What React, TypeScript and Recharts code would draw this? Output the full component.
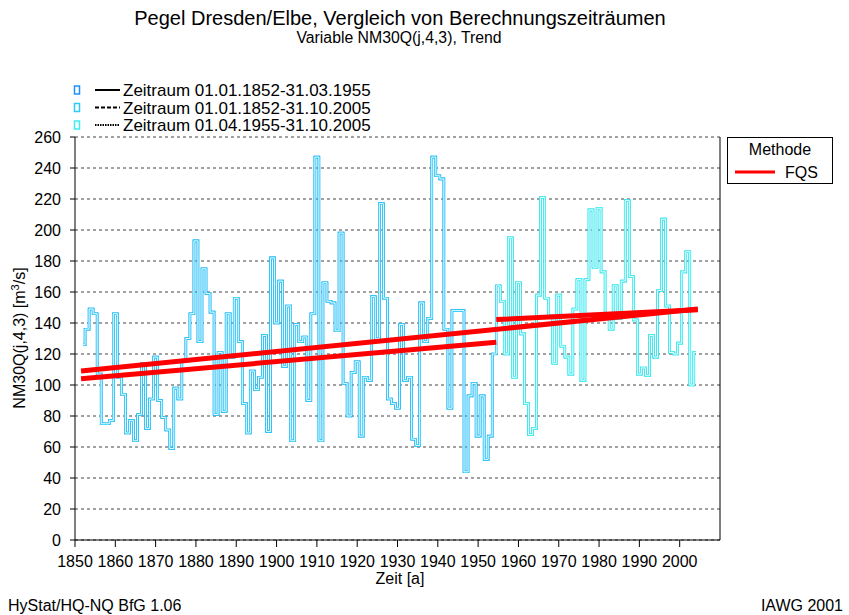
import { CartesianGrid, ComposedChart, Line, ReferenceLine, XAxis, YAxis } from "recharts"

const font = "'Liberation Sans', Arial, sans-serif"

const firstYear = 1852
const splitYear = 1955

// NM30Q(j,4,3) per year, 1852-2004
const nm30q = [
  126, 136, 149, 146, 107, 75, 75, 77, // 1852-1859
  146, 105, 94, 69, 77, 64, 81, 114, 72, 91,
  118, 90, 79, 71, 59, 98, 91, 115, 130, 146,
  193, 128, 175, 159, 147, 81, 121, 83, 146, 118,
  156, 128, 88, 69, 109, 97, 105, 132, 70, 182,
  140, 167, 112, 151, 64, 139, 128, 131, 90, 146,
  247, 64, 166, 154, 153, 135, 198, 101, 80, 108,
  115, 67, 105, 103, 157, 130, 217, 156, 91, 88,
  85, 139, 103, 105, 65, 61, 153, 128, 143, 247,
  235, 233, 136, 85, 148, 148, 148, 44, 93, 101,
  67, 93, 52, 67, 120, 164, 154, 120, 195, 105,
  166, 133, 88, 68, 72, 158, 221, 156, 145, 114,
  158, 125, 118, 107, 149, 168, 103, 168, 213, 176,
  214, 173, 146, 136, 164, 143, 167, 219, 170, 142,
  107, 111, 106, 132, 118, 161, 207, 151, 121, 120,
  127, 173, 186, 100, 121, // 2000-2004
]

// linear trends (FQS), start and end of each period
const trendEarlyYears = [1851.5, 1954.5]
const trendEarlyQ = [104, 127.6]
const trendAllYears = [1851.5, 2004.5]
const trendAllQ = [109, 149]
const trendLateYears = [1954.5, 2004.5]
const trendLateQ = [142.2, 148.6]

const xTicks = [1850, 1860, 1870, 1880, 1890, 1900, 1910, 1920, 1930, 1940, 1950, 1960, 1970, 1980, 1990, 2000]
const yTicks = [0, 20, 40, 60, 80, 100, 120, 140, 160, 180, 200, 220, 240, 260]

const periods = [
  { label: "Zeitraum 01.01.1852-31.03.1955", color: "#1E90FF", dash: undefined },
  { label: "Zeitraum 01.01.1852-31.10.2005", color: "#2CCBF7", dash: "4 2" },
  { label: "Zeitraum 01.04.1955-31.10.2005", color: "#3CEEEE", dash: "1.5 1" },
]

const rows = nm30q.map((q, i) => {
  const year = firstYear + i
  return {
    year,
    all: q,
    early: year < splitYear ? q : null,
    late: year >= splitYear ? q : null,
  }
})

const toLine = (xs: number[], ys: number[]) => xs.map((year, i) => ({ year, q: ys[i] }))

export default function App() {
  return (
    <div style={{ position: "absolute", left: 0, top: 0, width: 849, height: 615, background: "#fff" }}>
      <ComposedChart
        width={849}
        height={615}
        data={rows}
        margin={{ top: 137, right: 129, bottom: 0, left: 0 }}
        style={{ fontFamily: font }}
      >
        <CartesianGrid vertical={false} stroke="#444" strokeDasharray="3 3" />
        <XAxis
          dataKey="year"
          type="number"
          domain={[1850, 2010]}
          ticks={xTicks}
          height={75}
          stroke="#000"
          tickSize={7}
          tickMargin={9}
          tick={{ fill: "#000", fontSize: 16 }}
          interval={0}
        />
        <YAxis
          type="number"
          domain={[0, 260]}
          ticks={yTicks}
          width={75}
          stroke="#000"
          tickSize={5}
          tickMargin={9}
          tick={{ fill: "#000", fontSize: 16 }}
          interval={0}
        />
        <ReferenceLine x={2010} stroke="#000" />
        <Line dataKey="early" type="step" stroke={periods[0].color} strokeWidth={2.6} dot={false} isAnimationActive={false} />
        <Line dataKey="all" type="step" stroke={periods[1].color} strokeWidth={2.6} dot={false} isAnimationActive={false} />
        <Line dataKey="late" type="step" stroke={periods[2].color} strokeWidth={2.6} dot={false} isAnimationActive={false} />
        <Line dataKey="all" type="step" stroke="#fff" strokeWidth={0.9} dot={false} isAnimationActive={false} />
        <Line data={toLine(trendEarlyYears, trendEarlyQ)} dataKey="q" stroke="#f00" strokeWidth={5} dot={false} isAnimationActive={false} />
        <Line data={toLine(trendAllYears, trendAllQ)} dataKey="q" stroke="#f00" strokeWidth={5} dot={false} isAnimationActive={false} />
        <Line data={toLine(trendLateYears, trendLateQ)} dataKey="q" stroke="#f00" strokeWidth={5} dot={false} isAnimationActive={false} />
      </ComposedChart>

      <svg
        width={849}
        height={615}
        style={{ position: "absolute", left: 0, top: 0, pointerEvents: "none", fontFamily: font }}
      >
        <text x={400} y={25} textAnchor="middle" fontSize={20}>
          Pegel Dresden/Elbe, Vergleich von Berechnungszeiträumen
        </text>
        <text x={399} y={43} textAnchor="middle" fontSize={15.8}>
          Variable NM30Q(j,4,3), Trend
        </text>

        {periods.map((p, i) => {
          const cy = 90 + i * 17.5
          return (
            <g key={p.label}>
              <rect x={74.5} y={cy - 4} width={5} height={8} fill="none" stroke={p.color} strokeWidth={1.5} />
              <line x1={95} x2={120} y1={cy} y2={cy} stroke="#000" strokeWidth={2} strokeDasharray={p.dash} />
              <text x={123} y={cy + 6} fontSize={17}>{p.label}</text>
            </g>
          )
        })}

        <rect x={727.5} y={137.5} width={105} height={46} fill="#fff" stroke="#000" />
        <text x={780} y={155} textAnchor="middle" fontSize={16}>Methode</text>
        <line x1={735} x2={775} y1={172} y2={172} stroke="#f00" strokeWidth={3} />
        <text x={785} y={177.5} fontSize={16}>FQS</text>

        <text x={400} y={584} textAnchor="middle" fontSize={16}>Zeit [a]</text>
        <text transform="translate(25,338) rotate(-90)" textAnchor="middle" fontSize={16}>
          NM30Q(j,4,3) [m<tspan dy={-6} fontSize={11}>3</tspan><tspan dy={6}>/s]</tspan>
        </text>

        <text x={8} y={611} fontSize={16}>HyStat/HQ-NQ BfG 1.06</text>
        <text x={843} y={611} textAnchor="end" fontSize={16}>IAWG 2001</text>
      </svg>
    </div>
  )
}
